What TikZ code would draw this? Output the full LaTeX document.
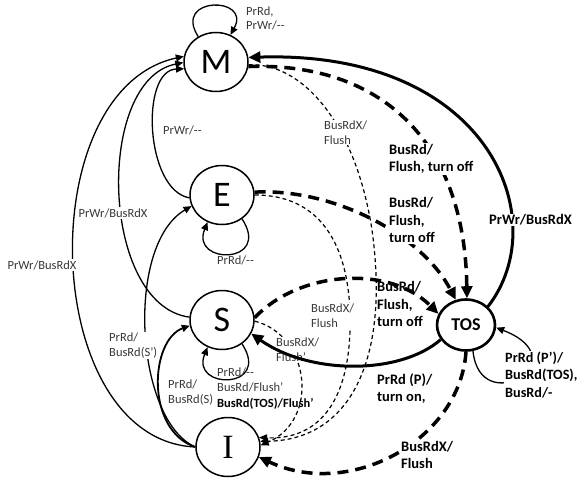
\documentclass[tikz,border=0pt]{standalone}
\usepackage{fontspec}
\setmainfont{Carlito}
\newfontfamily\serifI{Liberation Serif}
\usetikzlibrary{arrows.meta,shapes.geometric}
\begin{document}
\begin{tikzpicture}[x=1pt,y=-1pt,
  state/.style={ellipse, draw, line width=1.5pt, minimum width=64pt, minimum height=59pt, inner sep=0pt, font=\fontsize{36}{36}\selectfont},
  tos/.style={ellipse, draw, line width=2.6pt, minimum width=58pt, minimum height=51pt, inner sep=0pt, font=\fontsize{18}{18}\selectfont\bfseries},
  sline/.style={line width=1.3pt, -{Triangle[length=8pt,width=7pt]}},
  tdash/.style={line width=1.2pt, dash pattern=on 4pt off 3pt, -{Triangle[length=8pt,width=7pt]}},
  bdash/.style={line width=3.5pt, dash pattern=on 11pt off 7pt, -{Triangle[length=12pt,width=11pt]}},
  bsolid/.style={line width=3pt, -{Triangle[length=12pt,width=11pt]}},
  lab/.style={font=\fontsize{12.5}{15}\selectfont, text=black!78, align=left, inner sep=1pt, anchor=west},
  blab/.style={font=\fontsize{14.5}{17.5}\selectfont\bfseries, align=left, inner sep=1pt, anchor=west},
  wb/.style={fill=white}
]
\path[use as bounding box] (0,0) rectangle (580,481);

% states
\node[state] (M) at (216,62) {M};
\node[state] (E) at (222,195) {E};
\node[state] (S) at (222,320) {S};
\node[state,font=\fontsize{34}{34}\selectfont\serifI] (I) at (228,447) {I};
\node[tos] (T) at (466,325) {TOS};

% connectors hidden partly by labels
\draw[sline] (I.west) .. controls (40,440) and (30,90) .. (M.170);
\draw[sline] (S.175) .. controls (100,305) and (95,80) .. (M.181);
\draw[sline] (I.west) .. controls (135,420) and (125,245) .. (E.200);
\draw[tdash] (M.-5) .. controls (300,62) and (355,120) .. (372,230) .. controls (390,360) and (350,440) .. (I.10);
\draw[tdash] (E.east) .. controls (330,195) and (352,260) .. (350,330) .. controls (348,400) and (320,440) .. (I.17);
\draw[tdash] (S.-2) .. controls (310,335) and (320,420) .. (I.3);
\draw[bdash] (M.-8) .. controls (380,62) and (465,140) .. (T.88);
\draw[bdash] (E.5) .. controls (330,188) and (420,232) .. (T.112);
\draw[bsolid] (T.40) .. controls (555,220) and (490,50) .. (M.8);
\draw[sline] (T.-75) .. controls (480,420) and (580,360) .. (T.-5);
\draw[bdash] (T.-90) .. controls (460,440) and (350,500) .. (I.-18);

% labels with white ground
\node[lab,wb,anchor=center] (l1) at (42,265) {PrWr/BusRdX};
\node[lab,wb,anchor=center] (l2) at (113,213) {PrWr/BusRdX};
\node[lab,wb] (l3) at (108,345.5) {PrRd/\\BusRd(S')};
\node[lab,wb] (l4) at (323,132.5) {BusRdX/\\Flush};
\node[lab,wb] (l5) at (310,315.5) {BusRdX/\\Flush};
\node[lab,wb] (l6) at (275,350) {BusRdX/\\Flush'};
\node[blab,wb] (l7) at (388,159) {BusRd/\\Flush, turn off};
\node[blab,wb] (l8) at (388,220) {BusRd/\\Flush,\\turn off};
\node[blab,wb] (l9) at (488,220) {PrWr/BusRdX};
\node[blab,wb,font=\fontsize{14.2}{17.5}\selectfont\bfseries] (l10) at (504,375) {PrRd (P')/\\BusRd(TOS),\\BusRd/-};
\node[blab,wb] (l11) at (400,455) {BusRdX/\\Flush};

% connectors drawn on top
\draw[sline] (E.185) .. controls (145,190) and (140,70) .. (M.192);
\draw[sline,line width=1.8pt] (I.west) .. controls (145,430) and (150,340) .. (S.190);
\draw[sline] (M.125) .. controls (172,-4) and (252,-4) .. (M.62);
\draw[sline] (E.-50) .. controls (272,265) and (190,265) .. (E.-118);
\draw[sline] (S.-50) .. controls (272,390) and (190,390) .. (S.-118);
\draw[bdash] (S.4) .. controls (300,270) and (390,265) .. (T.158);
\draw[bsolid] (T.-150) .. controls (400,375) and (310,375) .. (S.-25);

% plain labels
\node[lab,font=\fontsize{12.5}{14}\selectfont] (l12) at (245,18.5) {PrRd,\\PrWr/-{}-};
\node[lab] (l13) at (162,130) {PrWr/-{}-};
\node[lab] (l14) at (167,392.5) {PrRd/\\BusRd(S)};
\node[lab] (l15) at (216,260) {PrRd/-{}-};
\node[lab,font=\fontsize{12.5}{15.5}\selectfont] (l16) at (216,388.5) {PrRd/-{}-\\BusRd/Flush'\\\textbf{\color{black}BusRd(TOS)/Flush'}};
\node[blab] (l17) at (376,304) {BusRd/\\Flush,\\turn off};
\node[blab] (l18) at (376,388.5) {PrRd (P)/\\turn on,};
\end{tikzpicture}
\end{document}
